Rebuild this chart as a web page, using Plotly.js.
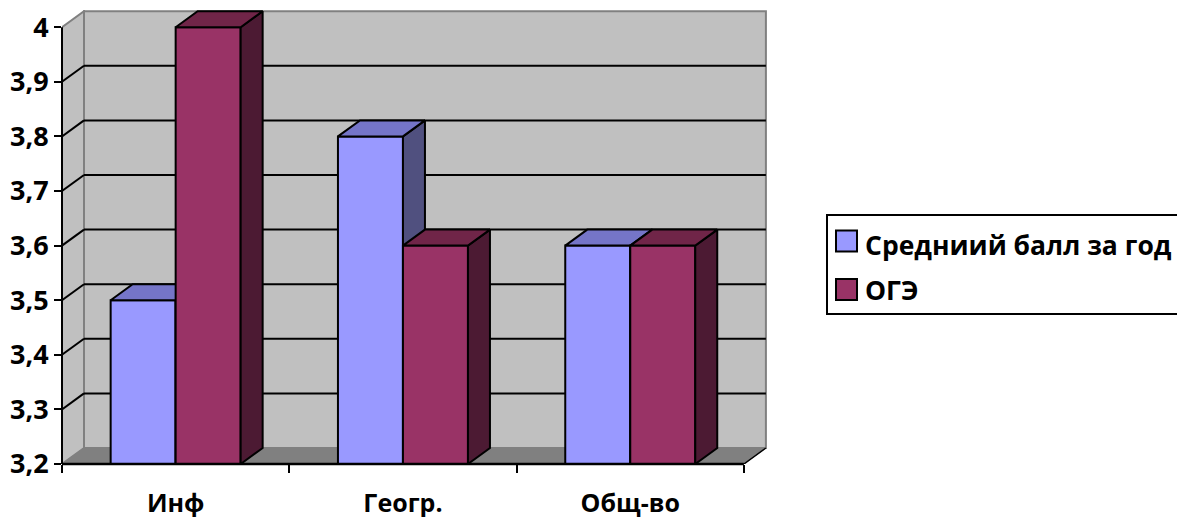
<!DOCTYPE html>
<html><head><meta charset="utf-8">
<script src="https://cdn.plot.ly/plotly-3.0.1.min.js"></script>
<style>html,body{margin:0;padding:0;background:#fff}</style></head>
<body><div id="chart" style="width:1177px;height:517px"></div>
<script>
const categories = ["Инф", "Геогр.", "Общ-во"];
const seriesNames = ["Средниий балл за год", "ОГЭ"];
const avgYear = [3.5, 3.8, 3.6];
const oge = [4.0, 3.6, 3.6];
const yTickVals = [3.2, 3.3, 3.4, 3.5, 3.6, 3.7, 3.8, 3.9, 4.0];
const yTickText = ["3,2", "3,3", "3,4", "3,5", "3,6", "3,7", "3,8", "3,9", "4"];
const boundaries = [-0.5, 0.5, 1.5, 2.5];

const front = ["#9999FF", "#993366"];
const sideC = ["#50507F", "#4C1A33"];
const topC = ["#7575C8", "#702548"];

// plot frame in pixels
const L = 62, T = 10, B = 464, W = 705, H = B - T;
const catPx = 227.3, valPx = 546;
const barW = 65 / catPx, dx = 22 / catPx, dy = 16 / valPx;
const xR = [-0.5, -0.5 + W / catPx], yR = [3.2, 3.2 + H / valPx];
const base = 3.2;
const px = p => (p - L) / W, py = p => (B - p) / H;

function poly(xs, ys, color, xa, ya) {
  return {type: "scatter", mode: "lines", x: xs.concat(xs[0]), y: ys.concat(ys[0]),
    fill: "toself", fillcolor: color, line: {color: "#000", width: 2},
    xaxis: xa, yaxis: ya, hoverinfo: "skip", showlegend: false};
}
const traces = [];
[avgYear, oge].forEach((vals, s) => {
  const xa = s ? "x2" : "x", ya = s ? "y2" : "y";
  traces.push({type: "bar", name: seriesNames[s], x: [0, 1, 2], y: vals,
    width: barW, offset: s ? 0 : -barW, marker: {color: front[s], line: {color: "#000", width: 2}},
    xaxis: xa, yaxis: ya, hoverinfo: "skip", showlegend: false});
  vals.forEach((v, i) => {
    const x0 = i + (s ? 0 : -barW), x1 = x0 + barW;
    traces.push(poly([x1, x1 + dx, x1 + dx, x1], [base, base + dy, v + dy, v], sideC[s], xa, ya));
    traces.push(poly([x0, x0 + dx, x1 + dx, x1], [v, v + dy, v + dy, v], topC[s], xa, ya));
  });
});

const xl = boundaries[0], xr = boundaries[3];
const shapes = [
  // left wall, back wall, floor
  {type: "path", layer: "below", xref: "x", yref: "y", fillcolor: "#C0C0C0", line: {color: "#808080", width: 2},
   path: `M${xl},${base} L${xl + dx},${base + dy} L${xl + dx},${4 + dy} L${xl},4 Z`},
  {type: "rect", layer: "below", xref: "x", yref: "y", fillcolor: "#C0C0C0", line: {color: "#808080", width: 2},
   x0: xl + dx, x1: xr + dx, y0: base + dy, y1: 4 + dy},
  {type: "path", layer: "below", xref: "x", yref: "y", fillcolor: "#808080", line: {color: "#808080", width: 1},
   path: `M${xl},${base} L${xl + dx},${base + dy} L${xr + dx},${base + dy} L${xr},${base} Z`},
];
yTickVals.slice(1, -1).forEach(v => {
  shapes.push({type: "line", layer: "below", xref: "x", yref: "y", x0: xl, x1: xl + dx, y0: v, y1: v + dy, line: {color: "#000", width: 2}});
  shapes.push({type: "line", layer: "below", xref: "x", yref: "y", x0: xl + dx, x1: xr + dx, y0: v + dy, y1: v + dy, line: {color: "#000", width: 2}});
});
// front axis lines
shapes.push({type: "line", layer: "above", xref: "x", yref: "paper", x0: xl, x1: xr, y0: 0, y1: 0, line: {color: "#000", width: 2.5}});
shapes.push({type: "line", layer: "above", xref: "paper", yref: "y", x0: 0, x1: 0, y0: base, y1: 4, line: {color: "#000", width: 2}});
shapes.push({type: "line", layer: "above", xref: "x", yref: "y", x0: xr, x1: xr + dx, y0: base, y1: base + dy, line: {color: "#000", width: 1.5}});
// legend
shapes.push({type: "rect", xref: "paper", yref: "paper", x0: px(827), x1: px(1180), y0: py(314), y1: py(215), fillcolor: "#fff", line: {color: "#000", width: 2}});
const legY = [241, 289.5];
const legTextY = [245, 290];
legY.forEach((c, i) => shapes.push({type: "rect", xref: "paper", yref: "paper",
  x0: px(836), x1: px(857), y0: py(c + 10.5), y1: py(c - 10.5), fillcolor: front[i], line: {color: "#000", width: 2}}));

const fontF = '"Open Sans", "Noto Sans", sans-serif';
const annotations = seriesNames.map((n, i) => ({text: "<b>" + n + "</b>", xref: "paper", yref: "paper",
  x: px(863), y: py(legTextY[i]), xanchor: "left", yanchor: "middle", showarrow: false,
  font: {family: fontF, size: 26.5, color: "#000"}}));

Plotly.newPlot("chart", traces, {
  width: 1177, height: 517, paper_bgcolor: "#fff", plot_bgcolor: "rgba(0,0,0,0)",
  margin: {l: L, r: 1177 - L - W, t: T, b: 517 - B, pad: 0},
  barmode: "overlay", showlegend: false, hovermode: false,
  xaxis: {type: "linear", range: xR, tickvals: [0, 1, 2], ticktext: categories, ticks: "outside", ticklen: 17,
    tickcolor: "rgba(0,0,0,0)", showgrid: false, zeroline: false, showline: false,
    tickfont: {family: fontF, size: 25, color: "#000", weight: "bold"},
    minor: {tickvals: boundaries, ticks: "outside", ticklen: 8, tickwidth: 2, tickcolor: "#000", showgrid: false}},
  yaxis: {type: "linear", range: yR, tickvals: yTickVals, ticktext: yTickText, ticks: "outside", ticklen: 7, tickwidth: 2,
    tickcolor: "#000", showgrid: false, zeroline: false, showline: false,
    tickfont: {family: fontF, size: 27, color: "#000", weight: "bold"}},
  xaxis2: {type: "linear", range: xR, overlaying: "x", visible: false},
  yaxis2: {type: "linear", range: yR, overlaying: "y", visible: false},
  shapes, annotations
}, {displayModeBar: false, staticPlot: true});
</script></body></html>
